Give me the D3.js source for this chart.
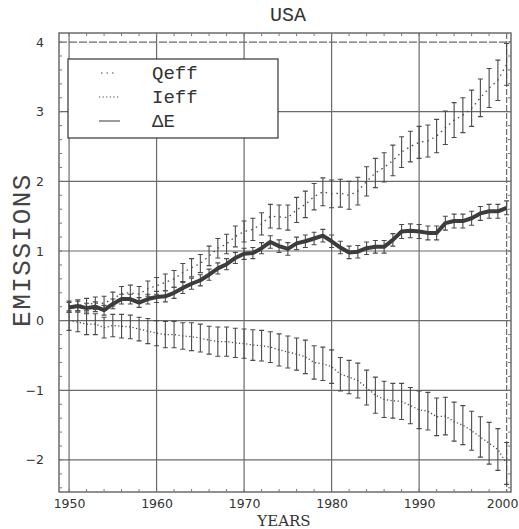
<!DOCTYPE html>
<html>
<head>
<meta charset="utf-8">
<script src="https://cdn.jsdelivr.net/npm/d3@7"></script>
<style>
  body { margin: 0; background: #fff; }
  svg { display: block; }
</style>
</head>
<body>
<svg id="chart" width="519" height="529"></svg>
<script>
// years 1950..2000
var years = d3.range(1950, 2001);

var qeff = [0.20, 0.22, 0.23, 0.25, 0.25, 0.31, 0.39, 0.40, 0.38, 0.46,
            0.50, 0.55, 0.60, 0.69, 0.76, 0.82, 0.93, 1.04, 1.10, 1.21,
            1.28, 1.31, 1.39, 1.50, 1.49, 1.48, 1.59, 1.67, 1.78, 1.85,
            1.82, 1.83, 1.80, 1.86, 2.00, 2.12, 2.20, 2.30, 2.42, 2.50,
            2.56, 2.58, 2.65, 2.77, 2.88, 2.95, 3.05, 3.20, 3.34, 3.45,
            3.68];
var qeffErr = [0.08, 0.08, 0.09, 0.09, 0.10, 0.10, 0.10, 0.11, 0.11, 0.11,
               0.12, 0.12, 0.12, 0.13, 0.13, 0.13, 0.14, 0.14, 0.14, 0.15,
               0.15, 0.16, 0.16, 0.17, 0.17, 0.18, 0.18, 0.19, 0.19, 0.20,
               0.20, 0.20, 0.20, 0.20, 0.21, 0.21, 0.21, 0.22, 0.22, 0.22,
               0.23, 0.23, 0.24, 0.24, 0.25, 0.25, 0.26, 0.27, 0.28, 0.29,
               0.30];

var ieff = [0.00, -0.02, -0.05, -0.05, -0.10, -0.07, -0.08, -0.09, -0.12, -0.15,
            -0.18, -0.20, -0.20, -0.22, -0.23, -0.25, -0.28, -0.30, -0.30, -0.32,
            -0.33, -0.35, -0.36, -0.38, -0.42, -0.45, -0.48, -0.52, -0.60, -0.62,
            -0.66, -0.77, -0.81, -0.86, -0.96, -1.07, -1.13, -1.15, -1.16, -1.22,
            -1.28, -1.30, -1.38, -1.37, -1.45, -1.50, -1.58, -1.67, -1.76, -1.85,
            -2.05];
var ieffErr = [0.14, 0.14, 0.15, 0.15, 0.15, 0.16, 0.17, 0.17, 0.17, 0.18,
               0.18, 0.19, 0.19, 0.19, 0.20, 0.20, 0.20, 0.21, 0.21, 0.21,
               0.21, 0.22, 0.22, 0.22, 0.23, 0.23, 0.23, 0.24, 0.24, 0.24,
               0.24, 0.24, 0.24, 0.25, 0.25, 0.26, 0.26, 0.25, 0.26, 0.26,
               0.27, 0.27, 0.27, 0.27, 0.28, 0.28, 0.28, 0.29, 0.30, 0.30,
               0.30];

var dE = [0.19, 0.21, 0.18, 0.20, 0.15, 0.24, 0.31, 0.31, 0.26, 0.31,
          0.34, 0.35, 0.40, 0.47, 0.53, 0.58, 0.66, 0.75, 0.81, 0.90,
          0.96, 0.97, 1.04, 1.13, 1.07, 1.03, 1.11, 1.14, 1.18, 1.22,
          1.14, 1.05, 0.98, 0.99, 1.04, 1.06, 1.06, 1.16, 1.28, 1.29,
          1.28, 1.26, 1.26, 1.40, 1.43, 1.43, 1.47, 1.54, 1.57, 1.57,
          1.62];
var dEErr = [0.07, 0.07, 0.07, 0.07, 0.07, 0.07, 0.07, 0.07, 0.07, 0.07,
             0.08, 0.08, 0.08, 0.08, 0.08, 0.08, 0.08, 0.08, 0.08, 0.08,
             0.08, 0.08, 0.08, 0.09, 0.09, 0.09, 0.09, 0.09, 0.09, 0.09,
             0.09, 0.09, 0.09, 0.09, 0.09, 0.09, 0.09, 0.09, 0.10, 0.10,
             0.10, 0.10, 0.10, 0.10, 0.10, 0.10, 0.10, 0.10, 0.10, 0.10,
             0.10];

var xTicks = [1950, 1960, 1970, 1980, 1990, 2000];
var yTicks = [-2, -1, 0, 1, 2, 3, 4];
var legendLabels = ["Qeff", "Ieff", "\u0394E"];

var svg = d3.select("#chart");

var x = d3.scaleLinear().domain([1948.85, 2000.5]).range([59, 511]);
var y = d3.scaleLinear().domain([-2.46, 4.13]).range([492, 33]);

var ink = "#4a4a4a";

// grid
svg.append("g")
    .selectAll("line")
    .data(xTicks)
    .enter()
    .append("line")
    .attr("x1", function (d) { return x(d); })
    .attr("x2", function (d) { return x(d); })
    .attr("y1", y.range()[1])
    .attr("y2", y.range()[0])
    .attr("stroke", "#6a6a6a")
    .attr("stroke-width", 1.2)
    .attr("stroke-dasharray", function (d) { return d == 2000 ? "6,2" : null; });

svg.append("g")
    .selectAll("line")
    .data(yTicks)
    .enter()
    .append("line")
    .attr("x1", x.range()[0])
    .attr("x2", x.range()[1])
    .attr("y1", function (d) { return y(d); })
    .attr("y2", function (d) { return y(d); })
    .attr("stroke", "#6a6a6a")
    .attr("stroke-width", 1.2)
    .attr("stroke-dasharray", function (d) { return d == 4 ? "8,2" : null; });

// frame with small inward ticks
var frame = svg.append("g");
frame.append("rect")
    .attr("x", x.range()[0])
    .attr("y", y.range()[1])
    .attr("width", x.range()[1] - x.range()[0])
    .attr("height", y.range()[0] - y.range()[1])
    .attr("fill", "none")
    .attr("stroke", "#555")
    .attr("stroke-width", 1.3);

var minorX = d3.range(1950, 2001, 2);
frame.selectAll(".mxb")
    .data(minorX)
    .enter()
    .append("line")
    .attr("x1", function (d) { return x(d); })
    .attr("x2", function (d) { return x(d); })
    .attr("y1", y.range()[0])
    .attr("y2", y.range()[0] - 3)
    .attr("stroke", "#777");
frame.selectAll(".mxt")
    .data(minorX)
    .enter()
    .append("line")
    .attr("x1", function (d) { return x(d); })
    .attr("x2", function (d) { return x(d); })
    .attr("y1", y.range()[1])
    .attr("y2", y.range()[1] + 3)
    .attr("stroke", "#777");

var minorY = d3.range(-2.4, 4.1, 0.2);
frame.selectAll(".myl")
    .data(minorY)
    .enter()
    .append("line")
    .attr("x1", x.range()[0])
    .attr("x2", x.range()[0] + 3)
    .attr("y1", function (d) { return y(d); })
    .attr("y2", function (d) { return y(d); })
    .attr("stroke", "#777");
frame.selectAll(".myr")
    .data(minorY)
    .enter()
    .append("line")
    .attr("x1", x.range()[1])
    .attr("x2", x.range()[1] - 3)
    .attr("y1", function (d) { return y(d); })
    .attr("y2", function (d) { return y(d); })
    .attr("stroke", "#777");

// tick labels via axes, domain path hidden
var xAxis = svg.append("g")
    .attr("transform", "translate(0," + (y.range()[0] + 2) + ")")
    .call(d3.axisBottom(x).tickValues(xTicks).tickSize(0).tickFormat(d3.format("d")));
xAxis.select(".domain").remove();
xAxis.selectAll("text")
    .attr("dy", "0.9em")
    .style("font-family", "DejaVu Sans")
    .style("font-size", "12.5px")
    .attr("fill", "#333");
// last label sits against the right edge of the page
xAxis.selectAll(".tick")
    .filter(function (d) { return d == 2000; })
    .select("text")
    .attr("text-anchor", "end")
    .attr("x", 518 - x(2000));

var yAxis = svg.append("g")
    .attr("transform", "translate(" + (x.range()[0] - 12) + ",0)")
    .call(d3.axisLeft(y).tickValues(yTicks).tickSize(0).tickFormat(d3.format("d")));
yAxis.select(".domain").remove();
yAxis.selectAll("text")
    .style("font-family", "DejaVu Sans")
    .style("font-size", "12.5px")
    .attr("fill", "#333");

// error bars
function errorBars(vals, errs, w, sw) {
    var g = svg.append("g").attr("stroke", ink).attr("stroke-width", sw);
    var pts = years.map(function (yr, i) { return {yr: yr, v: vals[i], e: errs[i]}; });
    g.selectAll(".bar")
        .data(pts)
        .enter()
        .append("path")
        .attr("fill", "none")
        .attr("d", function (d) {
            var cx = x(d.yr), t = y(d.v + d.e), b = y(d.v - d.e);
            return "M" + (cx - w) + "," + t + "H" + (cx + w) +
                   "M" + cx + "," + t + "V" + b +
                   "M" + (cx - w) + "," + b + "H" + (cx + w);
        });
}

errorBars(qeff, qeffErr, 2.5, 1.1);
errorBars(ieff, ieffErr, 2.5, 1.1);
errorBars(dE, dEErr, 2.5, 1.1);

var line = d3.line()
    .x(function (d, i) { return x(years[i]); })
    .y(function (d) { return y(d); });

svg.append("path")
    .datum(qeff)
    .attr("d", line)
    .attr("fill", "none")
    .attr("stroke", ink)
    .attr("stroke-width", 1.3)
    .attr("stroke-dasharray", "1.5,4");

svg.append("path")
    .datum(ieff)
    .attr("d", line)
    .attr("fill", "none")
    .attr("stroke", ink)
    .attr("stroke-width", 1.3)
    .attr("stroke-dasharray", "1.2,2.4");

svg.append("path")
    .datum(dE)
    .attr("d", line)
    .attr("fill", "none")
    .attr("stroke", "#3c3c3c")
    .attr("stroke-width", 4)
    .attr("stroke-linejoin", "round");

// legend
var legend = svg.append("g").attr("transform", "translate(68,59)");
legend.append("rect")
    .attr("width", 210)
    .attr("height", 79)
    .attr("fill", "#fff")
    .attr("stroke", "#333")
    .attr("stroke-width", 1.2);

var dashes = ["1.5,4", "1.2,2.4", null];
var legRows = legend.selectAll(".row")
    .data(legendLabels)
    .enter()
    .append("g")
    .attr("transform", function (d, i) { return "translate(0," + (14 + i * 24) + ")"; });
legRows.append("line")
    .attr("x1", function (d, i) { return i == 0 ? 33 : 31; })
    .attr("x2", function (d, i) { return i == 0 ? 47 : 52; })
    .attr("y1", 0)
    .attr("y2", 0)
    .attr("stroke", ink)
    .attr("stroke-width", 1.1)
    .attr("stroke-dasharray", function (d, i) { return dashes[i]; });
legRows.append("text")
    .attr("x", 84)
    .attr("y", 6)
    .text(function (d) { return d; })
    .style("font-family", "Liberation Mono")
    .style("font-size", "19px")
    .attr("fill", "#333");

// titles
svg.append("text")
    .attr("x", 288)
    .attr("y", 21)
    .attr("text-anchor", "middle")
    .text("USA")
    .style("font-family", "Liberation Mono")
    .style("font-size", "20px")
    .attr("fill", "#333");

svg.append("text")
    .attr("transform", "translate(30,250) rotate(-90)")
    .attr("text-anchor", "middle")
    .text("EMISSIONS")
    .style("font-family", "Liberation Mono")
    .style("font-size", "26px")
    .style("letter-spacing", "1.5px")
    .attr("fill", "#444");

svg.append("text")
    .attr("x", 284)
    .attr("y", 526)
    .attr("text-anchor", "middle")
    .text("YEARS")
    .style("font-family", "DejaVu Serif")
    .style("font-size", "15px")
    .attr("fill", "#333");
</script>
</body>
</html>
